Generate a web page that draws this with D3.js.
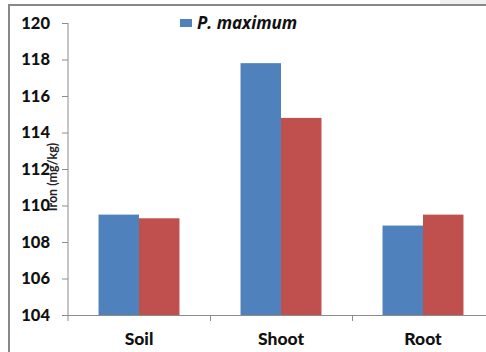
<!DOCTYPE html>
<html>
<head>
<meta charset="utf-8">
<script src="https://cdn.jsdelivr.net/npm/d3@7"></script>
<style>
  html, body { margin: 0; padding: 0; background: #fff; }
  svg { display: block; }
</style>
</head>
<body>
<svg id="chart" width="486" height="352"></svg>
<script>
// Iron content by plant part
const categories = ["Soil", "Shoot", "Root"];
const seriesNames = ["P. maximum", "second"];
const pMaximum = [109.5, 117.8, 108.9];
const secondSeries = [109.3, 114.8, 109.5];
const yTicks = [104, 106, 108, 110, 112, 114, 116, 118, 120];
const legendLabels = ["P. maximum"];
const yLabel = "Iron (mg/kg)";

const colors = ["#4F81BD", "#C0504D"];
const axisColor = "#8c8c8c";
const font = "Lato, 'Open Sans', sans-serif";

const svg = d3.select("#chart");

// outer frame (top and left edges visible)
svg.append("rect").attr("x", 440).attr("y", 0).attr("width", 46).attr("height", 4).attr("fill", "#f0f0f0");
svg.append("line").attr("x1", 8).attr("x2", 486).attr("y1", 5).attr("y2", 5)
  .attr("stroke", "#888").attr("stroke-width", 2);
svg.append("line").attr("x1", 9).attr("x2", 9).attr("y1", 5).attr("y2", 352)
  .attr("stroke", "#888").attr("stroke-width", 2);

const x = d3.scaleBand().domain(categories).range([68, 494])
  .paddingInner(0.43).paddingOuter(0.215);
const xs = d3.scaleBand().domain(seriesNames).range([0, x.bandwidth()]);
const y = d3.scaleLinear().domain([104, 120]).range([315, 23]);

// y axis label (drawn first, tick labels sit over it)
svg.append("text")
  .attr("transform", `translate(57,177) rotate(-90)`)
  .attr("text-anchor", "middle")
  .attr("font-family", font).attr("font-size", 12.5).attr("font-weight", "bold")
  .attr("fill", "#222")
  .text(yLabel);

// bars
const data = categories.map((c, i) => ({ c, vals: [pMaximum[i], secondSeries[i]] }));
const groups = svg.append("g").selectAll("g").data(data).join("g")
  .attr("transform", d => `translate(${x(d.c)},0)`);
groups.selectAll("rect").data(d => d.vals.map((v, j) => ({ v, s: seriesNames[j], j })))
  .join("rect")
  .attr("x", d => xs(d.s))
  .attr("width", xs.bandwidth())
  .attr("y", d => y(d.v))
  .attr("height", d => y(104) - y(d.v))
  .attr("fill", d => colors[d.j]);

// y axis
const yAxis = svg.append("g").attr("transform", "translate(68,0)")
  .call(d3.axisLeft(y).tickValues(yTicks).tickSize(6).tickPadding(12).tickSizeOuter(0));
yAxis.select(".domain").attr("stroke", axisColor).attr("d", "M0,23V321");
yAxis.selectAll(".tick line").attr("stroke", axisColor);
yAxis.selectAll(".tick text")
  .attr("font-family", font).attr("font-size", 16.5).attr("font-weight", 900).attr("fill", "#111");

// x axis
const bounds = [x.step() + 68, 2 * x.step() + 68];
const xAxis = svg.append("g").attr("transform", "translate(0,315)");
xAxis.append("line").attr("x1", 62).attr("x2", 486).attr("y1", 0.5).attr("y2", 0.5)
  .attr("stroke", axisColor);
xAxis.selectAll("line.tk").data(bounds).join("line").attr("class", "tk")
  .attr("x1", d => Math.round(d) + 0.5).attr("x2", d => Math.round(d) + 0.5)
  .attr("y1", 0).attr("y2", 6).attr("stroke", axisColor);
xAxis.selectAll("text").data(categories).join("text")
  .attr("x", d => x(d) + x.bandwidth() / 2)
  .attr("y", 30)
  .attr("text-anchor", "middle")
  .attr("font-family", font).attr("font-size", 17.5).attr("font-weight", 900).attr("fill", "#111")
  .text(d => d);

// legend
const lg = svg.append("g").attr("transform", "translate(180,19)");
lg.selectAll("rect").data(legendLabels).join("rect")
  .attr("x", 0).attr("y", 0).attr("width", 12).attr("height", 8).attr("fill", colors[0]);
lg.selectAll("text").data(legendLabels).join("text")
  .attr("x", 17).attr("y", 9.5)
  .attr("font-family", "'Open Sans', sans-serif").attr("font-size", 17).attr("font-weight", "bold")
  .attr("font-style", "italic").attr("fill", "#111")
  .text(d => d);
</script>
</body>
</html>
